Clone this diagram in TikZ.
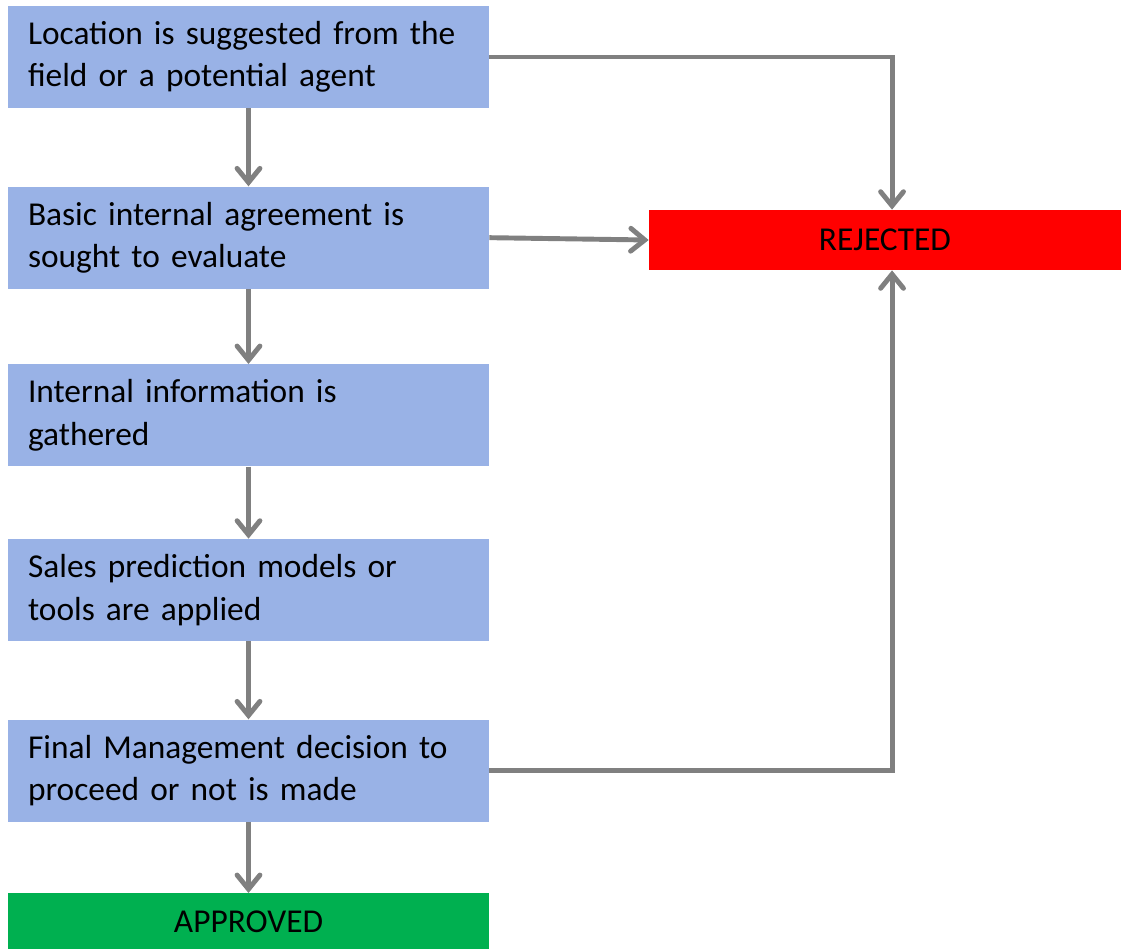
\documentclass[tikz,border=0pt]{standalone}
\usepackage{fontspec}
\setmainfont{Carlito}
\usetikzlibrary{arrows.meta,positioning}

\definecolor{stepblue}{RGB}{153,178,230}
\definecolor{okgreen}{RGB}{0,176,80}
\definecolor{linegray}{RGB}{128,128,128}

\begin{document}
\begin{tikzpicture}[x=0.02cm,y=-0.02cm,node distance=1.5cm,
  >={Straight Barb[length=8pt,width=13pt,line cap=round]},
  stepbox/.style={fill=stepblue,minimum width=9.62cm,minimum height=2.04cm,
    text width=8.82cm,inner xsep=0.4cm,align=left,
    font=\fontsize{19}{24}\selectfont},
  endbox/.style={minimum height=1.12cm,font=\fontsize{19}{22}\selectfont},
  flow/.style={draw=linegray,line width=2.8pt,->}]
\useasboundingbox (0,0) rectangle (1121,948);
\node[stepbox] (suggest) at (248.5,57) {Location is suggested from the\\field or a potential agent};
\node[stepbox,below=1.56cm of suggest] (agree) {Basic internal agreement is\\sought to evaluate};
\node[stepbox,below=1.5cm of agree] (gather) {Internal information is\\gathered};
\node[stepbox,below=1.44cm of gather] (predict) {Sales prediction models or\\tools are applied};
\node[stepbox,below=1.56cm of predict] (decide) {Final Management decision to\\proceed or not is made};
\node[endbox,fill=okgreen,minimum width=9.62cm,below=1.42cm of decide] (approved) {APPROVED};
\node[endbox,fill=red,minimum width=9.44cm,minimum height=1.2cm] (rejected) at (885,240) {REJECTED};
\draw[flow] (suggest) -- (agree);
\draw[flow] (agree) -- (gather);
\draw[flow] (gather) -- (predict);
\draw[flow] (predict) -- (decide);
\draw[flow] (decide) -- (approved);
\draw[flow] (suggest.east) -| ([xshift=4]rejected.north);
\draw[flow] (agree.east) -- (rejected.west);
\draw[flow] (decide.east) -| ([xshift=4]rejected.south);
\end{tikzpicture}
\end{document}
